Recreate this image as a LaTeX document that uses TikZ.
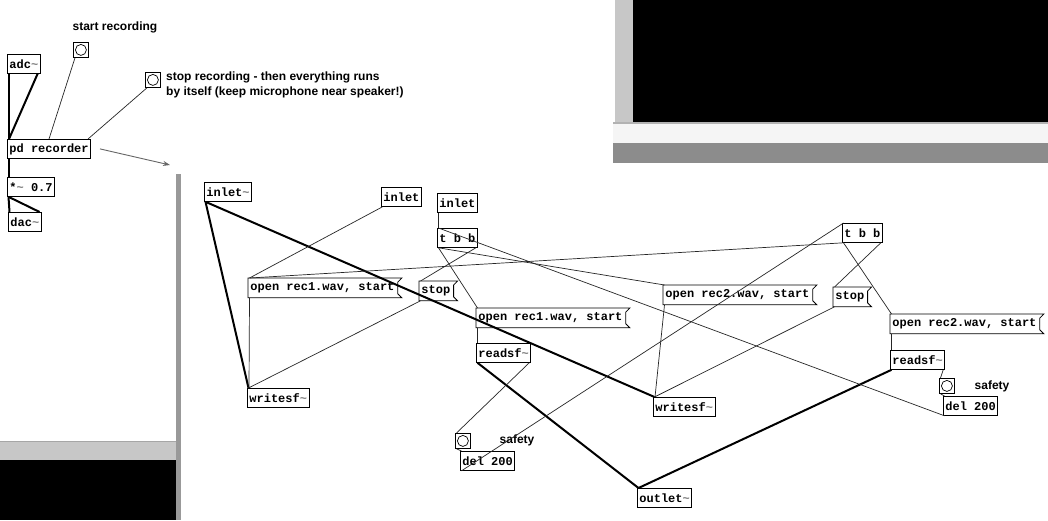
\documentclass[tikz,border=0pt]{standalone}
\usepackage{fontspec}
\setmainfont{Liberation Sans}
\newfontfamily\pdmono{Liberation Mono}
\usetikzlibrary{calc,arrows.meta}
\definecolor{barA}{gray}{0.55}
\definecolor{barB}{gray}{0.78}
\definecolor{barC}{gray}{0.60}
\newcommand\tld{{\color{gray}\textasciitilde}}
\tikzset{
  pdobj/.style={draw=black, line width=0.8pt, anchor=north west, inner xsep=2pt, inner ysep=0pt,
    minimum height=19pt, font=\pdmono\bfseries\fontsize{12}{14}\selectfont},
  pdmsg/.style={pdobj, draw=none},
  pdbang/.style={draw=black, line width=0.8pt, anchor=north west, minimum size=15pt, inner sep=0pt,
    path picture={\draw[line width=0.7pt] (path picture bounding box.center) circle (5.5pt);}},
  cmt/.style={font=\bfseries\fontsize{12}{15}\selectfont, inner sep=0pt},
  sig/.style={line width=2pt, black},
  ctl/.style={line width=0.7pt, black!85},
  msgline/.style={line width=0.8pt, black}
}
\newcommand\msgflag[1]{\draw[msgline] (#1.north west) -- ([xshift=5pt]#1.north east) -- ([xshift=1pt,yshift=-4pt]#1.north east) -- ([xshift=1pt,yshift=4pt]#1.south east) -- ([xshift=5pt]#1.south east) -- (#1.south west) -- cycle;}
\begin{document}
\begin{tikzpicture}[x=1pt,y=-1pt]
\useasboundingbox (0,0) rectangle (1048,520);
\fill[white] (0,0) rectangle (1048,520);
% window decorations
\fill[barB] (615,0) rectangle (633,123);
\fill[black] (633,0) rectangle (1048,122);
\fill[gray!60] (613,122) rectangle (1048,124);
\fill[gray!8] (613,124) rectangle (1048,143);
\fill[barA] (613,143) rectangle (1048,163);
\fill[barB] (0,441) rectangle (176,460);
\draw[gray!70, line width=1pt] (0,441.5) -- (176,441.5);
\fill[black] (0,460) rectangle (176,520);
\fill[barC] (176,174) rectangle (181,520);

% ---------- main patch ----------
\node[cmt] (tstart) at (115,27) {start recording};
\node[pdbang] (bstart) at (73,42) {};
\node[pdobj] (adc) at (7,54) {adc\tld};
\node[pdbang] (bstop) at (145,72) {};
\node[cmt, anchor=north west, align=left] (tstop) at (166,72) {stop recording - then everything runs\\by itself (keep microphone near speaker!)};
\node[pdobj] (pdrec) at (7,139) {pd recorder};
\node[pdobj] (mul) at (7,177) {*\tld{} 0.7};
\node[pdobj] (dac) at (8,212) {dac\tld};

\draw[sig] ([xshift=1.5pt]adc.south west) -- ([xshift=1.5pt]pdrec.north west);
\draw[sig] ([xshift=-3pt]adc.south east) -- ([xshift=2pt]pdrec.north west);
\draw[ctl] ([xshift=2pt]bstart.south west) -- ($(pdrec.north west)!0.5!(pdrec.north east)$);
\draw[ctl] ([xshift=2pt]bstop.south west) -- ([xshift=-3pt]pdrec.north east);
\draw[sig] ([xshift=1.5pt]pdrec.south west) -- ([xshift=1.5pt]mul.north west);
\draw[sig] ([xshift=1.5pt]mul.south west) -- ([xshift=1.5pt]dac.north west);
\draw[sig] ([xshift=1.5pt]mul.south west) -- ([xshift=-2pt]dac.north east);

\coordinate (arrend) at (170,165);
\draw[gray!80!black, line width=0.9pt, -{Stealth[length=7pt,width=5pt]}] ([xshift=9pt]pdrec.east) -- (arrend);

% ---------- subpatch ----------
\node[pdobj] (insig) at (204,182) {inlet\tld};
\node[pdobj] (inA) at (381,187) {inlet};
\node[pdobj] (inB) at (437,193) {inlet};
\node[pdobj] (tbbA) at (437,228) {t b b};
\node[pdmsg] (msg1) at (248,278) {open rec1.wav, start};
\node[pdmsg] (stop1) at (419,281) {stop};
\node[pdobj] (wsf1) at (247,388) {writesf\tld};
\node[pdmsg] (msg2) at (476,308) {open rec1.wav, start};
\node[pdobj] (rsf1) at (476,343) {readsf\tld};
\node[pdmsg] (msg3) at (663,285) {open rec2.wav, start};
\node[pdobj] (wsf2) at (653,397) {writesf\tld};
\node[pdobj] (tbbB) at (842,223) {t b b};
\node[pdmsg] (stop2) at (833,287) {stop};
\node[pdmsg] (msg4) at (890,314) {open rec2.wav, start};
\node[pdobj] (rsf2) at (890,350) {readsf\tld};
\node[pdbang] (bang2) at (939,378) {};
\node[cmt] (saf2) at (992,386) {safety};
\node[pdobj] (del2) at (943,396) {del 200};
\node[pdbang] (bang1) at (455,433) {};
\node[cmt] (saf1) at (517,440) {safety};
\node[pdobj] (del1) at (460,451) {del 200};
\node[pdobj] (outl) at (637,488) {outlet\tld};

\msgflag{msg1}\msgflag{stop1}\msgflag{msg2}\msgflag{msg3}\msgflag{stop2}\msgflag{msg4}

% signal connections
\draw[sig] ([xshift=1.5pt]insig.south west) -- ([xshift=1.5pt]wsf1.north west);
\draw[sig] ([xshift=1.5pt]insig.south west) -- ([xshift=1.5pt]wsf2.north west);
\draw[sig] ([xshift=1.5pt]rsf1.south west) -- ([xshift=1.5pt]outl.north west);
\draw[sig] ([xshift=1.5pt]rsf2.south west) -- ([xshift=1.5pt]outl.north west);

% control connections
\draw[ctl] ([xshift=1.5pt]inA.south west) -- ([xshift=1.5pt]msg1.north west);
\draw[ctl] ([xshift=1.5pt]msg1.south west) -- ([xshift=2pt]wsf1.north west);
\draw[ctl] ([xshift=1.5pt]stop1.south west) -- ([xshift=1.5pt]wsf1.north west);
\draw[ctl] ([xshift=1.5pt]inB.south west) -- ([xshift=1.5pt]tbbA.north west);
\draw[ctl] ([xshift=1.5pt]tbbA.south west) -- ([xshift=1.5pt]msg2.north west);
\draw[ctl] ([xshift=1.5pt]tbbA.south west) -- ([xshift=1.5pt]msg3.north west);
\draw[ctl] ([xshift=-2pt]tbbA.south east) -- ([xshift=1.5pt]stop1.north west);
\draw[ctl] ([xshift=1.5pt]tbbB.south west) -- ([xshift=1.5pt]msg1.north west);
\draw[ctl] ([xshift=1.5pt]tbbB.south west) -- ([xshift=1.5pt]msg4.north west);
\draw[ctl] ([xshift=-2pt]tbbB.south east) -- ([xshift=1.5pt]stop2.north west);
\draw[ctl] ([xshift=1.5pt]msg2.south west) -- ([xshift=1.5pt]rsf1.north west);
\draw[ctl] ([xshift=1.5pt]msg3.south west) -- ([xshift=2pt]wsf2.north west);
\draw[ctl] ([xshift=1.5pt]stop2.south west) -- ([xshift=1.5pt]wsf2.north west);
\draw[ctl] ([xshift=1.5pt]msg4.south west) -- ([xshift=1.5pt]rsf2.north west);
\draw[ctl] ([xshift=-2pt]rsf1.south east) -- ([xshift=1.5pt]bang1.north west);
\draw[ctl] ([xshift=1.5pt]bang1.south west) -- ([xshift=1.5pt]del1.north west);
\draw[ctl] ([xshift=1.5pt]del1.south west) -- ([xshift=1.5pt]tbbB.north west);
\draw[ctl] ([xshift=-2pt]rsf2.south east) -- ([xshift=1.5pt]bang2.north west);
\draw[ctl] ([xshift=1.5pt]bang2.south west) -- ([xshift=1.5pt]del2.north west);
\draw[ctl] ([xshift=1.5pt]del2.south west) -- ([xshift=1.5pt]tbbA.north west);
\end{tikzpicture}
\end{document}
